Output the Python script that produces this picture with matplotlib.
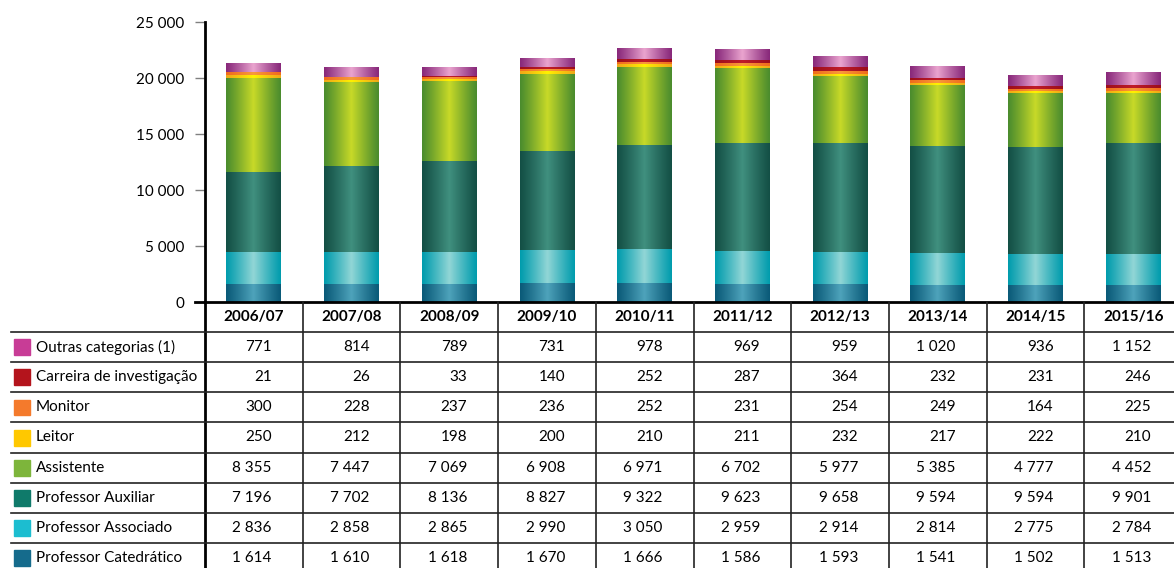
import numpy as np
import matplotlib.pyplot as plt
from matplotlib.colors import to_rgb

plt.rcParams['font.family'] = ['Lato', 'DejaVu Sans']

anos = ['2006/07', '2007/08', '2008/09', '2009/10', '2010/11',
        '2011/12', '2012/13', '2013/14', '2014/15', '2015/16']

# de baixo para cima na barra
categorias = ['Professor Catedrático', 'Professor Associado', 'Professor Auxiliar',
              'Assistente', 'Leitor', 'Monitor', 'Carreira de investigação',
              'Outras categorias (1)']

catedratico = [1614, 1610, 1618, 1670, 1666, 1586, 1593, 1541, 1502, 1513]
associado = [2836, 2858, 2865, 2990, 3050, 2959, 2914, 2814, 2775, 2784]
auxiliar = [7196, 7702, 8136, 8827, 9322, 9623, 9658, 9594, 9594, 9901]
assistente = [8355, 7447, 7069, 6908, 6971, 6702, 5977, 5385, 4777, 4452]
leitor = [250, 212, 198, 200, 210, 211, 232, 217, 222, 210]
monitor = [300, 228, 237, 236, 252, 231, 254, 249, 164, 225]
carreira = [21, 26, 33, 140, 252, 287, 364, 232, 231, 246]
outras = [771, 814, 789, 731, 978, 969, 959, 1020, 936, 1152]

series = [catedratico, associado, auxiliar, assistente, leitor, monitor, carreira, outras]

# cor da borda, cor do centro (gradiente), cor da legenda
cores = [
    ('#0a5a78', '#4ea3bb', '#156b8c'),
    ('#009cad', '#92d6d6', '#1cbdd0'),
    ('#134f45', '#40907f', '#0f7a6a'),
    ('#4a8c2e', '#c8da28', '#7db53b'),
    ('#f0a818', '#fff200', '#ffc800'),
    ('#f06c1c', '#f89a3c', '#f47a2c'),
    ('#9c0e1c', '#c01c2a', '#b4141c'),
    ('#88287a', '#eaa4cf', '#c83c96'),
]

W, H = 1174, 568
fig = plt.figure(figsize=(W / 100, H / 100), dpi=100)

px = 97.7          # largura de uma coluna em pixeis
x_left = 205
y0, ytop = 302, 22
right = x_left + px * 10
fs = 11

ax = fig.add_axes([x_left / W, 1 - y0 / H, (right - x_left) / W, (y0 - ytop) / H])
x = np.arange(len(anos))
bw = 0.56

u = np.linspace(0, 1, 200)
perfil = (1 - np.abs(2 * u - 1)) ** 1.1

bottom = np.zeros(len(anos))
for vals, (c_borda, c_centro, _) in zip(series, cores):
    bars = ax.bar(x, vals, bw, bottom=bottom, color='none', linewidth=0)
    a, b = np.array(to_rgb(c_borda)), np.array(to_rgb(c_centro))
    grad = a + (b - a) * perfil[:, None]
    for p in bars:
        x0, yb = p.get_x(), p.get_y()
        ax.imshow(grad[None, :, :], extent=(x0, x0 + p.get_width(), yb, yb + p.get_height()),
                  aspect='auto', interpolation='bilinear', zorder=2)
    bottom += np.array(vals)

ax.set_xlim(-0.5, 9.5)
ax.set_ylim(0, 25000)
ax.set_xticks([])
ax.set_yticks(np.arange(0, 25001, 5000))
ax.set_yticklabels([f'{v:,}'.replace(',', ' ') for v in range(0, 25001, 5000)], fontsize=fs)
ax.tick_params(axis='y', length=7, width=1, color='#808080', pad=8)
for s in ['top', 'right']:
    ax.spines[s].set_visible(False)
ax.spines['left'].set_linewidth(2)
ax.spines['bottom'].set_linewidth(2)
ax.spines['bottom'].set_bounds(-0.6, 9.5)

# tabela
nrows = 9
rh = 30.1
tab_bottom = y0 + rh * nrows
tab = fig.add_axes([0, 1 - tab_bottom / H, right / W, (tab_bottom - y0) / H])
xmin = -0.5 - x_left / px
tab.set_xlim(xmin, 9.5)
tab.set_ylim(nrows, 0)
tab.axis('off')

lc = '#222222'
for i in range(11):
    xv = -0.5 + i
    tab.plot([xv, xv], [0, nrows], color='black' if i == 0 else lc,
             lw=2 if i == 0 else 1.2, clip_on=False)
for r in range(1, nrows + 1):
    tab.plot([-0.5 - 194 / px, 9.5], [r, r], color=lc, lw=1.2, clip_on=False)

for j, a in enumerate(anos):
    tab.text(j, 0.5, a, ha='center', va='center', fontsize=fs, fontweight='bold')

for k in range(len(series)):
    idx = len(series) - 1 - k
    r = k + 1
    vals = series[idx]
    tab.add_patch(plt.Rectangle((-0.5 - 191 / px, r + 0.24), 16 / px, 0.53,
                                color=cores[idx][2], clip_on=False))
    tab.text(-0.5 - 169 / px, r + 0.5, categorias[idx], ha='left', va='center', fontsize=fs)
    for j, v in enumerate(vals):
        tab.text(j + 18 / px, r + 0.5, f'{v:,}'.replace(',', ' '), ha='right',
                 va='center', fontsize=fs)

fig.savefig('out.png', dpi=100)
